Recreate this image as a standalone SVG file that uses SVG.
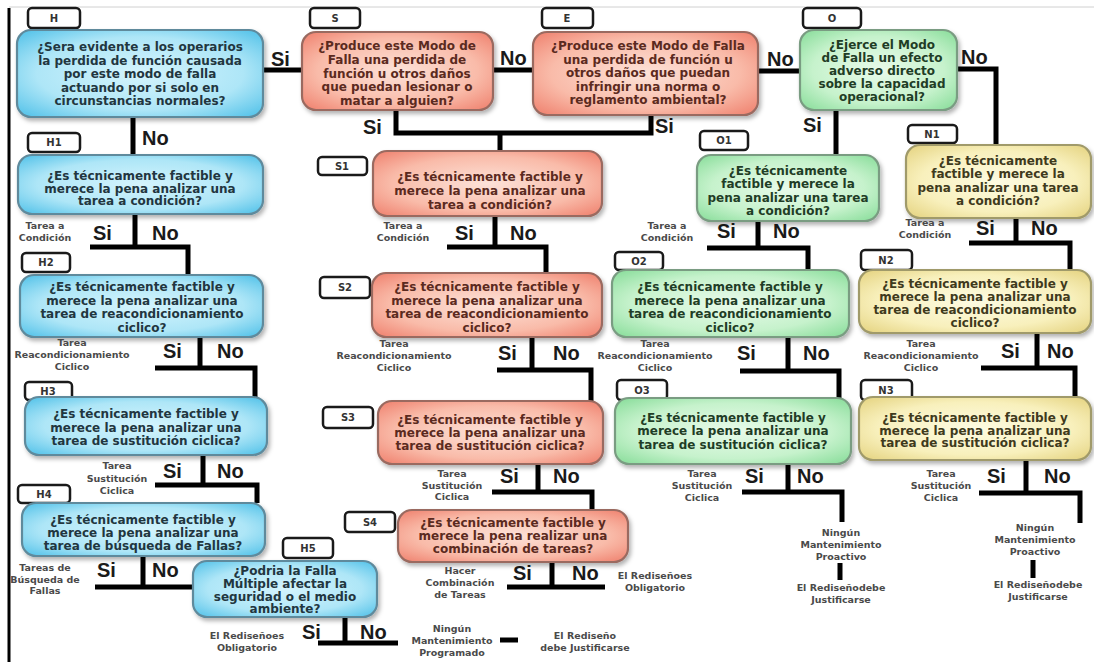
<svg xmlns="http://www.w3.org/2000/svg" width="1094" height="662" viewBox="0 0 1094 662">
<style>
.lb{fill:#fff;stroke:#1a1a1a;stroke-width:2.5}
.lt{font-family:"DejaVu Sans",Verdana,sans-serif;font-weight:bold;font-size:10px;fill:#333;text-anchor:middle}
.box{stroke-width:2.2;filter:url(#sh)}
.bb{fill:url(#gb);stroke:#5f8a9c}
.bs{fill:url(#gs);stroke:#9a6a60}
.bg{fill:url(#gg);stroke:#7a9c82}
.by{fill:url(#gy);stroke:#a09a6a}
.nt{font-family:"DejaVu Sans",Verdana,sans-serif;font-weight:bold;font-size:12px;text-anchor:middle}
.tb{fill:#22363f}.ts{fill:#5b2a20}.tg{fill:#1f3d26}.ty{fill:#3f3a1c}
.ln{fill:none;stroke:#000;stroke-width:5}
.yn{font-family:"Liberation Sans",Arial,sans-serif;font-weight:bold;font-size:20px;fill:#1a1a1a}
.sm{font-family:"DejaVu Sans",Verdana,sans-serif;font-weight:bold;font-size:9.5px;fill:#4a4a4a;text-anchor:middle}
</style>
<defs>
<radialGradient id="gb" cx="0.5" cy="0.5" r="0.7"><stop offset="0" stop-color="#d4f4fd"/><stop offset="0.6" stop-color="#aee6f7"/><stop offset="1" stop-color="#4ec0e8"/></radialGradient>
<radialGradient id="gs" cx="0.5" cy="0.5" r="0.7"><stop offset="0" stop-color="#fde2d8"/><stop offset="0.6" stop-color="#f9bba9"/><stop offset="1" stop-color="#ef7f6c"/></radialGradient>
<radialGradient id="gg" cx="0.5" cy="0.5" r="0.7"><stop offset="0" stop-color="#e8fbea"/><stop offset="0.6" stop-color="#c6f2cc"/><stop offset="1" stop-color="#86dc98"/></radialGradient>
<radialGradient id="gy" cx="0.5" cy="0.5" r="0.7"><stop offset="0" stop-color="#fdfbe2"/><stop offset="0.6" stop-color="#f8f0bc"/><stop offset="1" stop-color="#e4d27e"/></radialGradient>
<filter id="sh" x="-10%" y="-10%" width="125%" height="130%"><feDropShadow dx="2" dy="3" stdDeviation="2" flood-color="#000" flood-opacity="0.3"/></filter>
</defs>
<rect x="0" y="0" width="1094" height="662" fill="#fff"/>
<g id="frame">
<line x1="9" y1="7" x2="1094" y2="7" stroke="#d0d0d0" stroke-width="1"/>
<line x1="9" y1="8" x2="9" y2="662" stroke="#000" stroke-width="3"/>
</g>

<g id="connectors">
<path class="ln" d="M263,70H302" stroke-width="4"/>
<path class="ln" d="M493,70H533"/>
<path class="ln" d="M758,71H800"/>
<path class="ln" d="M957,69H996V147"/>
<path class="ln" d="M396,110V133H651V115"/>
<path class="ln" d="M500,133V151"/>
<path class="ln" d="M836,110V155"/>
<path class="ln" d="M133,117V155"/>
<path class="ln" d="M135,214V247"/><path class="ln" d="M90,247H188V275"/>
<path class="ln" d="M200,337V368"/><path class="ln" d="M155,368H255V397"/>
<path class="ln" d="M203,455V485"/><path class="ln" d="M155,485H257V503"/>
<path class="ln" d="M143,556V587"/><path class="ln" d="M95,587H193"/>
<path class="ln" d="M345,617V643"/><path class="ln" d="M318,643H398"/>
<path class="ln" d="M500,640H518"/>
<path class="ln" d="M495,216V247"/><path class="ln" d="M447,247H546V273"/>
<path class="ln" d="M532,337V370"/><path class="ln" d="M497,370H591V401"/>
<path class="ln" d="M538,464V492"/><path class="ln" d="M492,492H592V510"/>
<path class="ln" d="M552,562V587"/><path class="ln" d="M507,587H605"/>
<path class="ln" d="M758,221V248"/><path class="ln" d="M707,248H808V270"/>
<path class="ln" d="M788,337V371"/><path class="ln" d="M740,371H839V398"/>
<path class="ln" d="M788,464V492"/><path class="ln" d="M742,492H842V522"/>
<path class="ln" d="M840,563V580"/>
<path class="ln" d="M1016,218V243"/><path class="ln" d="M969,243H1070V270"/>
<path class="ln" d="M1037,333V368"/><path class="ln" d="M981,368H1075V397"/>
<path class="ln" d="M1026,460V493"/><path class="ln" d="M979,493H1080V523"/>
<path class="ln" d="M1033,560V578"/>
<text class="yn" x="271" y="66">Si</text>
<text class="yn" x="500" y="65">No</text>
<text class="yn" x="767" y="66">No</text>
<text class="yn" x="961" y="64">No</text>
<text class="yn" x="363" y="134">Si</text>
<text class="yn" x="655" y="133">Si</text>
<text class="yn" x="803" y="132">Si</text>
<text class="yn" x="142" y="145">No</text>
<text class="yn" x="93" y="240">Si</text><text class="yn" x="152" y="240">No</text>
<text class="yn" x="163" y="358">Si</text><text class="yn" x="217" y="358">No</text>
<text class="yn" x="163" y="478">Si</text><text class="yn" x="217" y="478">No</text>
<text class="yn" x="97" y="577">Si</text><text class="yn" x="152" y="577">No</text>
<text class="yn" x="302" y="639">Si</text><text class="yn" x="360" y="639">No</text>
<text class="yn" x="455" y="240">Si</text><text class="yn" x="510" y="240">No</text>
<text class="yn" x="498" y="360">Si</text><text class="yn" x="553" y="360">No</text>
<text class="yn" x="500" y="483">Si</text><text class="yn" x="553" y="483">No</text>
<text class="yn" x="513" y="580">Si</text><text class="yn" x="572" y="580">No</text>
<text class="yn" x="717" y="238">Si</text><text class="yn" x="773" y="238">No</text>
<text class="yn" x="737" y="360">Si</text><text class="yn" x="803" y="360">No</text>
<text class="yn" x="745" y="483">Si</text><text class="yn" x="797" y="483">No</text>
<text class="yn" x="976" y="235">Si</text><text class="yn" x="1031" y="235">No</text>
<text class="yn" x="1001" y="358">Si</text><text class="yn" x="1047" y="358">No</text>
<text class="yn" x="987" y="483">Si</text><text class="yn" x="1044" y="483">No</text>
</g>

<g id="node-H">
<rect class="lb" x="28" y="8" width="52" height="20" rx="4"/><text class="lt" x="54" y="22">H</text>
<rect class="box bb" x="17" y="30" width="246" height="87" rx="14"/>
<text class="nt tb" x="140" y="51"><tspan x="140">¿Sera evidente a los operarios</tspan><tspan x="140" dy="13.5">la perdida de función causada</tspan><tspan x="140" dy="13.5">por este modo de falla</tspan><tspan x="140" dy="13.5">actuando por si solo en</tspan><tspan x="140" dy="13.5">circunstancias normales?</tspan></text>
</g>
<g id="node-S">
<rect class="lb" x="310" y="8" width="50" height="20" rx="4"/><text class="lt" x="335" y="22">S</text>
<rect class="box bs" x="302" y="32" width="191" height="78" rx="14"/>
<text class="nt ts" x="397" y="50"><tspan x="397">¿Produce este Modo de</tspan><tspan x="397" dy="13.8">Falla una perdida de</tspan><tspan x="397" dy="13.8">función u otros daños</tspan><tspan x="397" dy="13.8">que puedan lesionar o</tspan><tspan x="397" dy="13.8">matar a alguien?</tspan></text>
</g>
<g id="node-E">
<rect class="lb" x="542" y="8" width="51" height="20" rx="4"/><text class="lt" x="567" y="22">E</text>
<rect class="box bs" x="533" y="32" width="225" height="83" rx="14"/>
<text class="nt ts" x="648" y="50"><tspan x="648">¿Produce este Modo de Falla</tspan><tspan x="648" dy="13.5">una perdida de función u</tspan><tspan x="648" dy="13.5">otros daños que puedan</tspan><tspan x="648" dy="13.5">infringir una norma o</tspan><tspan x="648" dy="13.5">reglamento ambiental?</tspan></text>
</g>
<g id="node-O">
<rect class="lb" x="803" y="8" width="58" height="20" rx="4"/><text class="lt" x="832" y="22">O</text>
<rect class="box bg" x="800" y="30" width="157" height="80" rx="14"/>
<text class="nt tg" x="882" y="49"><tspan x="882">¿Ejerce el Modo</tspan><tspan x="882" dy="13">de Falla un efecto</tspan><tspan x="882" dy="13">adverso directo</tspan><tspan x="882" dy="13">sobre la capacidad</tspan><tspan x="882" dy="13">operacional?</tspan></text>
</g>

<g id="node-H1">
<rect class="lb" x="28" y="133" width="52" height="19" rx="4"/><text class="lt" x="54" y="146">H1</text>
<rect class="box bb" x="18" y="155" width="245" height="59" rx="14"/>
<text class="nt tb" x="140" y="180"><tspan x="140">¿Es técnicamente factible y</tspan><tspan x="140" dy="12.5">merece la pena analizar una</tspan><tspan x="140" dy="12.5">tarea a condición?</tspan></text>
</g>
<g id="node-H2">
<rect class="lb" x="22" y="253" width="48" height="19" rx="4"/><text class="lt" x="46" y="266">H2</text>
<rect class="box bb" x="20" y="275" width="243" height="62" rx="14"/>
<text class="nt tb" x="142" y="291"><tspan x="142">¿Es técnicamente factible y</tspan><tspan x="142" dy="13.7">merece la pena analizar una</tspan><tspan x="142" dy="13.7">tarea de reacondicionamiento</tspan><tspan x="142" dy="13.7">ciclico?</tspan></text>
</g>
<g id="node-H3">
<rect class="lb" x="25" y="382" width="47" height="18" rx="4"/><text class="lt" x="48" y="395">H3</text>
<rect class="box bb" x="25" y="397" width="242" height="58" rx="14"/>
<text class="nt tb" x="146" y="418"><tspan x="146">¿Es técnicamente factible y</tspan><tspan x="146" dy="13.5">merece la pena analizar una</tspan><tspan x="146" dy="13.5">tarea de sustitución ciclica?</tspan></text>
</g>
<g id="node-H4">
<rect class="lb" x="18" y="485" width="52" height="18" rx="4"/><text class="lt" x="44" y="498">H4</text>
<rect class="box bb" x="22" y="503" width="243" height="53" rx="14"/>
<text class="nt tb" x="143" y="524"><tspan x="143">¿Es técnicamente factible y</tspan><tspan x="143" dy="13">merece la pena analizar una</tspan><tspan x="143" dy="13">tarea de búsqueda de Fallas?</tspan></text>
</g>
<g id="node-H5">
<rect class="lb" x="283" y="538" width="50" height="20" rx="4"/><text class="lt" x="308" y="552">H5</text>
<rect class="box bb" x="193" y="561" width="184" height="56" rx="14"/>
<text class="nt tb" x="285" y="575"><tspan x="285">¿Podria la Falla</tspan><tspan x="285" dy="12.8">Múltiple afectar la</tspan><tspan x="285" dy="12.8">seguridad o el medio</tspan><tspan x="285" dy="12.8">ambiente?</tspan></text>
</g>

<g id="node-S1">
<rect class="lb" x="318" y="157" width="49" height="18" rx="4"/><text class="lt" x="342" y="170">S1</text>
<rect class="box bs" x="373" y="151" width="229" height="65" rx="14"/>
<text class="nt ts" x="490" y="181"><tspan x="490">¿Es técnicamente factible y</tspan><tspan x="490" dy="14">merece la pena analizar una</tspan><tspan x="490" dy="14">tarea a condición?</tspan></text>
</g>
<g id="node-S2">
<rect class="lb" x="320" y="277" width="50" height="21" rx="4"/><text class="lt" x="345" y="291">S2</text>
<rect class="box bs" x="372" y="273" width="230" height="64" rx="14"/>
<text class="nt ts" x="487" y="291"><tspan x="487">¿Es técnicamente factible y</tspan><tspan x="487" dy="13.7">merece la pena analizar una</tspan><tspan x="487" dy="13.7">tarea de reacondicionamiento</tspan><tspan x="487" dy="13.7">ciclico?</tspan></text>
</g>
<g id="node-S3">
<rect class="lb" x="323" y="407" width="50" height="21" rx="4"/><text class="lt" x="348" y="421">S3</text>
<rect class="box bs" x="378" y="401" width="225" height="63" rx="14"/>
<text class="nt ts" x="490" y="424"><tspan x="490">¿Es técnicamente factible y</tspan><tspan x="490" dy="13">merece la pena analizar una</tspan><tspan x="490" dy="13">tarea de sustitución ciclica?</tspan></text>
</g>
<g id="node-S4">
<rect class="lb" x="345" y="512" width="50" height="20" rx="4"/><text class="lt" x="370" y="526">S4</text>
<rect class="box bs" x="398" y="510" width="230" height="52" rx="14"/>
<text class="nt ts" x="513" y="527"><tspan x="513">¿Es técnicamente factible y</tspan><tspan x="513" dy="13">merece la pena realizar una</tspan><tspan x="513" dy="13">combinación de tareas?</tspan></text>
</g>

<g id="node-O1">
<rect class="lb" x="700" y="131" width="48" height="19" rx="4"/><text class="lt" x="724" y="144">O1</text>
<rect class="box bg" x="697" y="155" width="182" height="66" rx="14"/>
<text class="nt tg" x="788" y="175"><tspan x="788">¿Es técnicamente</tspan><tspan x="788" dy="13.3">factible y merece la</tspan><tspan x="788" dy="13.3">pena analizar una tarea</tspan><tspan x="788" dy="13.3">a condición?</tspan></text>
</g>
<g id="node-O2">
<rect class="lb" x="615" y="252" width="48" height="18" rx="4"/><text class="lt" x="639" y="265">O2</text>
<rect class="box bg" x="612" y="270" width="237" height="67" rx="14"/>
<text class="nt tg" x="730" y="291"><tspan x="730">¿Es técnicamente factible y</tspan><tspan x="730" dy="13.7">merece la pena analizar una</tspan><tspan x="730" dy="13.7">tarea de reacondicionamiento</tspan><tspan x="730" dy="13.7">ciclico?</tspan></text>
</g>
<g id="node-O3">
<rect class="lb" x="617" y="380" width="50" height="20" rx="4"/><text class="lt" x="642" y="394">O3</text>
<rect class="box bg" x="615" y="398" width="236" height="66" rx="14"/>
<text class="nt tg" x="733" y="422"><tspan x="733">¿Es técnicamente factible y</tspan><tspan x="733" dy="13.3">merece la pena analizar una</tspan><tspan x="733" dy="13.3">tarea de sustitución ciclica?</tspan></text>
</g>

<g id="node-N1">
<rect class="lb" x="908" y="125" width="49" height="18" rx="4"/><text class="lt" x="932" y="138">N1</text>
<rect class="box by" x="906" y="145" width="185" height="73" rx="14"/>
<text class="nt ty" x="998" y="165"><tspan x="998">¿Es técnicamente</tspan><tspan x="998" dy="13.3">factible y merece la</tspan><tspan x="998" dy="13.3">pena analizar una tarea</tspan><tspan x="998" dy="13.3">a condición?</tspan></text>
</g>
<g id="node-N2">
<rect class="lb" x="861" y="250" width="51" height="20" rx="4"/><text class="lt" x="886" y="264">N2</text>
<rect class="box by" x="859" y="270" width="232" height="63" rx="14"/>
<text class="nt ty" x="975" y="288"><tspan x="975">¿Es técnicamente factible y</tspan><tspan x="975" dy="13">merece la pena analizar una</tspan><tspan x="975" dy="13">tarea de reacondicionamiento</tspan><tspan x="975" dy="13">ciclico?</tspan></text>
</g>
<g id="node-N3">
<rect class="lb" x="861" y="380" width="51" height="20" rx="4"/><text class="lt" x="886" y="394">N3</text>
<rect class="box by" x="859" y="397" width="232" height="63" rx="14"/>
<text class="nt ty" x="975" y="422"><tspan x="975">¿Es técnicamente factible y</tspan><tspan x="975" dy="12.5">merece la pena analizar una</tspan><tspan x="975" dy="12.5">tarea de sustitución ciclica?</tspan></text>
</g>

<g id="outcomes">
<text class="sm" x="45" y="229"><tspan x="45">Tarea a</tspan><tspan x="45" dy="12">Condición</tspan></text>
<text class="sm" x="72" y="346"><tspan x="72">Tarea</tspan><tspan x="72" dy="12">Reacondicionamiento</tspan><tspan x="72" dy="12">Ciclico</tspan></text>
<text class="sm" x="117" y="469"><tspan x="117">Tarea</tspan><tspan x="117" dy="12.5">Sustitución</tspan><tspan x="117" dy="12.5">Ciclica</tspan></text>
<text class="sm" x="45" y="571"><tspan x="45">Tareas de</tspan><tspan x="45" dy="11.5">Búsqueda de</tspan><tspan x="45" dy="11.5">Fallas</tspan></text>
<text class="sm" x="247" y="639"><tspan x="247">El Rediseñoes</tspan><tspan x="247" dy="12">Obligatorio</tspan></text>
<text class="sm" x="452" y="632"><tspan x="452">Ningún</tspan><tspan x="452" dy="12">Mantenimiento</tspan><tspan x="452" dy="12">Programado</tspan></text>
<text class="sm" x="585" y="639"><tspan x="585">El Rediseño</tspan><tspan x="585" dy="12">debe Justificarse</tspan></text>
<text class="sm" x="403" y="229"><tspan x="403">Tarea a</tspan><tspan x="403" dy="12">Condición</tspan></text>
<text class="sm" x="394" y="347"><tspan x="394">Tarea</tspan><tspan x="394" dy="12">Reacondicionamiento</tspan><tspan x="394" dy="12">Ciclico</tspan></text>
<text class="sm" x="452" y="477"><tspan x="452">Tarea</tspan><tspan x="452" dy="11.5">Sustitución</tspan><tspan x="452" dy="11.5">Ciclica</tspan></text>
<text class="sm" x="460" y="574"><tspan x="460">Hacer</tspan><tspan x="460" dy="12">Combinación</tspan><tspan x="460" dy="12">de Tareas</tspan></text>
<text class="sm" x="655" y="579"><tspan x="655">El Rediseñoes</tspan><tspan x="655" dy="12">Obligatorio</tspan></text>
<text class="sm" x="667" y="229"><tspan x="667">Tarea a</tspan><tspan x="667" dy="12">Condición</tspan></text>
<text class="sm" x="655" y="347"><tspan x="655">Tarea</tspan><tspan x="655" dy="12">Reacondicionamiento</tspan><tspan x="655" dy="12">Ciclico</tspan></text>
<text class="sm" x="702" y="477"><tspan x="702">Tarea</tspan><tspan x="702" dy="12">Sustitución</tspan><tspan x="702" dy="12">Ciclica</tspan></text>
<text class="sm" x="841" y="536"><tspan x="841">Ningún</tspan><tspan x="841" dy="12">Mantenimiento</tspan><tspan x="841" dy="12">Proactivo</tspan></text>
<text class="sm" x="841" y="591"><tspan x="841">El Rediseñodebe</tspan><tspan x="841" dy="12">Justificarse</tspan></text>
<text class="sm" x="925" y="226"><tspan x="925">Tarea a</tspan><tspan x="925" dy="12">Condición</tspan></text>
<text class="sm" x="921" y="347"><tspan x="921">Tarea</tspan><tspan x="921" dy="12">Reacondicionamiento</tspan><tspan x="921" dy="12">Ciclico</tspan></text>
<text class="sm" x="941" y="477"><tspan x="941">Tarea</tspan><tspan x="941" dy="12">Sustitución</tspan><tspan x="941" dy="12">Ciclica</tspan></text>
<text class="sm" x="1035" y="531"><tspan x="1035">Ningún</tspan><tspan x="1035" dy="12">Mantenimiento</tspan><tspan x="1035" dy="12">Proactivo</tspan></text>
<text class="sm" x="1038" y="588"><tspan x="1038">El Rediseñodebe</tspan><tspan x="1038" dy="12">Justificarse</tspan></text>
</g>
</svg>
